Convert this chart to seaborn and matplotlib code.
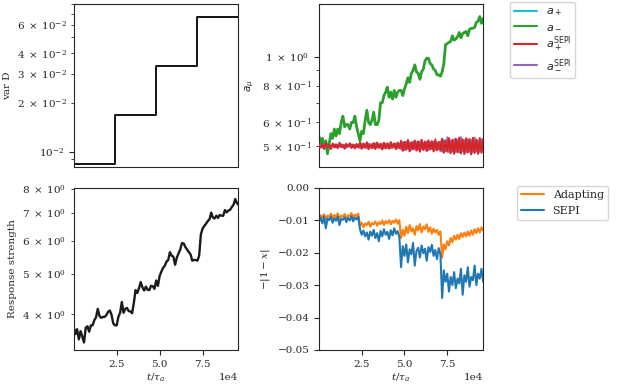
import matplotlib
matplotlib.use('Agg')
import matplotlib.pyplot as plt
import matplotlib.ticker as mticker
import seaborn as sns
import numpy as np

# time grid (units of tau_a), one sample every 1000
t = np.arange(97) * 1000.0

# top left: variance of D (stepwise)
t_var = [0, 24000, 48000, 72000, 96000]
var_d = [0.0084, 0.0168, 0.0335, 0.067, 0.067]

# top right: a_mu
a_minus = [0.54, 0.51, 0.53, 0.49, 0.52, 0.47, 0.51, 0.55, 0.53, 0.57, 0.54, 0.57, 0.55, 0.60, 0.63, 0.58,
           0.59, 0.59, 0.57, 0.60, 0.60, 0.63, 0.58, 0.55, 0.52, 0.56, 0.55, 0.61, 0.66, 0.60, 0.59, 0.61,
           0.65, 0.59, 0.59, 0.61, 0.70, 0.70, 0.74, 0.76, 0.79, 0.73, 0.76, 0.72, 0.77, 0.73, 0.76, 0.77,
           0.77, 0.74, 0.78, 0.81, 0.85, 0.82, 0.88, 0.90, 0.94, 0.89, 0.88, 0.84, 0.89, 0.91, 0.97, 0.99,
           0.99, 0.95, 0.94, 0.91, 0.90, 0.87, 0.87, 0.86, 0.89, 0.95, 1.10, 1.11, 1.12, 1.13, 1.18, 1.14,
           1.15, 1.17, 1.21, 1.16, 1.20, 1.21, 1.22, 1.18, 1.24, 1.25, 1.25, 1.26, 1.31, 1.32, 1.37, 1.30, 1.35]
a_plus = list(a_minus)
a_plus_sepi = [0.507, 0.493, 0.505, 0.490, 0.511, 0.496, 0.503, 0.488, 0.509, 0.494, 0.506, 0.491, 0.512, 0.495,
               0.504, 0.489, 0.508, 0.497, 0.510, 0.492, 0.505, 0.490, 0.507, 0.494,
               0.512, 0.489, 0.509, 0.493, 0.514, 0.487, 0.506, 0.491, 0.511, 0.488, 0.513, 0.492, 0.508, 0.486,
               0.512, 0.490, 0.510, 0.489, 0.515, 0.493, 0.509, 0.487, 0.513, 0.491,
               0.520, 0.481, 0.516, 0.485, 0.523, 0.479, 0.514, 0.487, 0.521, 0.482, 0.518, 0.478, 0.524, 0.484,
               0.517, 0.480, 0.522, 0.486, 0.519, 0.479, 0.525, 0.483, 0.516, 0.481,
               0.528, 0.474, 0.521, 0.478, 0.531, 0.472, 0.524, 0.470, 0.529, 0.476, 0.533, 0.471, 0.526, 0.469,
               0.530, 0.475, 0.527, 0.468, 0.532, 0.473, 0.525, 0.470, 0.531, 0.474, 0.528]
a_minus_sepi = [0.495, 0.506, 0.493, 0.505, 0.496, 0.507, 0.494, 0.503, 0.497, 0.506, 0.493, 0.504, 0.496, 0.507,
                0.494, 0.505, 0.492, 0.503, 0.496, 0.506, 0.494, 0.505, 0.495, 0.506,
                0.491, 0.509, 0.492, 0.507, 0.490, 0.510, 0.493, 0.508, 0.491, 0.510, 0.492, 0.507, 0.491, 0.509,
                0.490, 0.508, 0.492, 0.509, 0.490, 0.507, 0.493, 0.510, 0.491, 0.508,
                0.486, 0.515, 0.483, 0.517, 0.488, 0.514, 0.484, 0.518, 0.486, 0.515, 0.484, 0.517, 0.488, 0.513,
                0.485, 0.518, 0.483, 0.515, 0.487, 0.516, 0.484, 0.514, 0.486, 0.517,
                0.477, 0.524, 0.479, 0.535, 0.475, 0.522, 0.478, 0.526, 0.476, 0.524, 0.474, 0.536, 0.479, 0.523,
                0.475, 0.527, 0.477, 0.524, 0.475, 0.534, 0.480, 0.522, 0.476, 0.526, 0.477]

# bottom left: response strength
response = [3.73, 3.58, 3.68, 3.48, 3.64, 3.53, 3.42, 3.71, 3.74, 3.63, 3.76, 3.76, 3.87, 3.93, 4.12, 3.96,
            3.92, 3.94, 3.94, 3.98, 4.05, 4.08, 3.99, 3.80, 3.76, 3.76, 3.94, 4.03, 4.28, 4.03, 4.12, 4.14,
            4.07, 4.06, 4.02, 4.26, 4.57, 4.50, 4.62, 4.78, 4.64, 4.56, 4.66, 4.58, 4.57, 4.68, 4.67, 4.60,
            4.82, 4.68, 4.94, 5.06, 5.17, 5.23, 5.35, 5.40, 5.64, 5.53, 5.50, 5.26, 5.47, 5.60, 5.72, 5.93,
            5.92, 5.80, 5.72, 5.64, 5.57, 5.38, 5.40, 5.40, 5.38, 5.53, 6.22, 6.43, 6.52, 6.60, 6.70, 6.76,
            7.02, 6.83, 6.80, 6.90, 6.82, 6.93, 6.90, 6.90, 7.12, 7.03, 7.10, 7.13, 7.24, 7.33, 7.57, 7.40, 7.32]

# bottom right: -|1 - x|
adapting = [-0.0095, -0.0085, -0.0092, -0.0082, -0.0098, -0.0086, -0.0090, -0.0080, -0.0094, -0.0084, -0.0091,
            -0.0079, -0.0096, -0.0087, -0.0089, -0.0081, -0.0093, -0.0085, -0.0088, -0.0078, -0.0092, -0.0083,
            -0.0087, -0.0080,
            -0.0118, -0.0108, -0.0122, -0.0110, -0.0115, -0.0105, -0.0120, -0.0109, -0.0113, -0.0104, -0.0117,
            -0.0106, -0.0112, -0.0101, -0.0115, -0.0103, -0.0110, -0.0100, -0.0113, -0.0102, -0.0108, -0.0098,
            -0.0111, -0.0100,
            -0.0155, -0.0130, -0.0148, -0.0120, -0.0140, -0.0115, -0.0135, -0.0125, -0.0145, -0.0118, -0.0132,
            -0.0112, -0.0138, -0.0120, -0.0128, -0.0113, -0.0136, -0.0122, -0.0142, -0.0126, -0.0138, -0.0130,
            -0.0145, -0.0135,
            -0.0215, -0.0175, -0.0190, -0.0165, -0.0178, -0.0155, -0.0168, -0.0148, -0.0160, -0.0145, -0.0158,
            -0.0140, -0.0152, -0.0138, -0.0150, -0.0135, -0.0148, -0.0132, -0.0145, -0.0128, -0.0140, -0.0125,
            -0.0138, -0.0122, -0.0132]
sepi = [-0.0105, -0.0092, -0.0110, -0.0088, -0.0125, -0.0095, -0.0100, -0.0090, -0.0108, -0.0094, -0.0102,
        -0.0089, -0.0115, -0.0096, -0.0099, -0.0091, -0.0106, -0.0093, -0.0101, -0.0088, -0.0104, -0.0092,
        -0.0098, -0.0090,
        -0.0128, -0.0145, -0.0132, -0.0150, -0.0138, -0.0160, -0.0135, -0.0148, -0.0130, -0.0155, -0.0140,
        -0.0165, -0.0133, -0.0150, -0.0128, -0.0145, -0.0136, -0.0158, -0.0131, -0.0147, -0.0125, -0.0142,
        -0.0134, -0.0152,
        -0.0245, -0.0180, -0.0210, -0.0175, -0.0230, -0.0190, -0.0205, -0.0170, -0.0240, -0.0195, -0.0185,
        -0.0215, -0.0178, -0.0202, -0.0188, -0.0225, -0.0183, -0.0198, -0.0176, -0.0210, -0.0192, -0.0220,
        -0.0186, -0.0205,
        -0.0340, -0.0255, -0.0290, -0.0265, -0.0320, -0.0275, -0.0300, -0.0260, -0.0310, -0.0280, -0.0295,
        -0.0250, -0.0330, -0.0270, -0.0290, -0.0245, -0.0305, -0.0275, -0.0285, -0.0240, -0.0300, -0.0265,
        -0.0280, -0.0250, -0.0290]

sns.set_style('ticks')
plt.rcParams['font.family'] = ['DejaVu Serif']
plt.rcParams['mathtext.fontset'] = 'dejavuserif'
plt.rcParams['font.size'] = 7.5

fig = plt.figure(figsize=(6.17, 3.89), dpi=100)
ax_var = fig.add_axes([0.120, 0.5715, 0.266, 0.418])
ax_a = fig.add_axes([0.5175, 0.5715, 0.2648, 0.418])
ax_resp = fig.add_axes([0.120, 0.1003, 0.266, 0.4172])
ax_x = fig.add_axes([0.5175, 0.1003, 0.2648, 0.4172])


def log_label(keep):
    def fmt(v, pos):
        e = int(np.floor(np.log10(v) + 1e-9))
        m = int(round(v / 10 ** e))
        if m not in keep:
            return ''
        if m == 1 and keep == (1, 2, 3, 4, 6):
            return r'$10^{%d}$' % e
        return r'$%d\;\times\;10^{%d}$' % (m, e)
    return mticker.FuncFormatter(fmt)


# var D
sns.lineplot(x=t_var, y=var_d, ax=ax_var, color='black', lw=1.3, drawstyle='steps-post', estimator=None)
ax_var.set_yscale('log')
ax_var.set_ylim(0.0081, 0.080)
ax_var.yaxis.set_major_formatter(log_label((1, 2, 3, 4, 6)))
ax_var.yaxis.set_minor_formatter(log_label((1, 2, 3, 4, 6)))
ax_var.set_ylabel('var D', labelpad=3)

# a_mu
sns.lineplot(x=t, y=a_plus, ax=ax_a, color='tab:cyan', lw=1, label=r'$a_+$', estimator=None, zorder=1, legend=False)
sns.lineplot(x=t, y=a_minus, ax=ax_a, color='tab:green', lw=2.0, label=r'$a_-$', estimator=None, zorder=2, legend=False)
sns.lineplot(x=t, y=a_plus_sepi, ax=ax_a, color='tab:red', lw=1.5, label=r'$a_+^{\mathrm{SEPI}}$', estimator=None,
             zorder=4, legend=False)
sns.lineplot(x=t, y=a_minus_sepi, ax=ax_a, color='tab:purple', lw=1.2, label=r'$a_-^{\mathrm{SEPI}}$', estimator=None,
             zorder=3, legend=False)
ax_a.set_yscale('log')
ax_a.set_ylim(0.425, 1.51)
ax_a.yaxis.set_major_formatter(log_label((1, 5, 6, 8)))
ax_a.yaxis.set_minor_formatter(log_label((1, 5, 6, 8)))
lab = ax_a.set_ylabel(r'$a_\mu$')
lab.set_math_fontfamily('dejavusans')
leg = ax_a.legend(loc='upper left', bbox_to_anchor=(0.8266, 0.995), bbox_transform=fig.transFigure,
                  borderaxespad=0, fontsize=8, labelspacing=0.3)
for txt in leg.get_texts():
    txt.set_math_fontfamily('dejavusans')
for ln in leg.get_lines():
    ln.set_linewidth(1.5)

# response strength
sns.lineplot(x=t, y=response, ax=ax_resp, color='#1a1a1a', lw=1.7, estimator=None)
ax_resp.set_yscale('log')
ax_resp.set_ylim(3.28, 8.06)
ax_resp.yaxis.set_major_formatter(log_label((1, 2, 3, 4, 5, 6, 7, 8, 9)))
ax_resp.yaxis.set_minor_formatter(log_label((1, 2, 3, 4, 5, 6, 7, 8, 9)))
ax_resp.set_ylabel('Response strength')

# -|1-x|
sns.lineplot(x=t, y=adapting, ax=ax_x, color='tab:orange', lw=1.5, label='Adapting', estimator=None, legend=False)
sns.lineplot(x=t, y=sepi, ax=ax_x, color='tab:blue', lw=1.5, label='SEPI', estimator=None, legend=False)
ax_x.set_ylim(-0.05, 0.0)
ax_x.set_ylabel(r'$-|1-x|$')
leg2 = ax_x.legend(loc='upper left', bbox_to_anchor=(0.838, 0.522), bbox_transform=fig.transFigure,
                   borderaxespad=0, fontsize=8)
for ln in leg2.get_lines():
    ln.set_linewidth(1.5)

for ax in (ax_var, ax_a, ax_resp, ax_x):
    ax.set_xlim(200, 95700)
    ax.set_xticks([25000, 50000, 75000])
    ax.ticklabel_format(axis='x', style='sci', scilimits=(0, 0))
for ax in (ax_var, ax_a):
    ax.tick_params(axis='x', bottom=False, labelbottom=False)
    ax.set_xlabel('')
for ax in (ax_resp, ax_x):
    ax.set_xlabel(r'$t/\tau_a$', labelpad=2)

fig.savefig('out.png', dpi=100)
